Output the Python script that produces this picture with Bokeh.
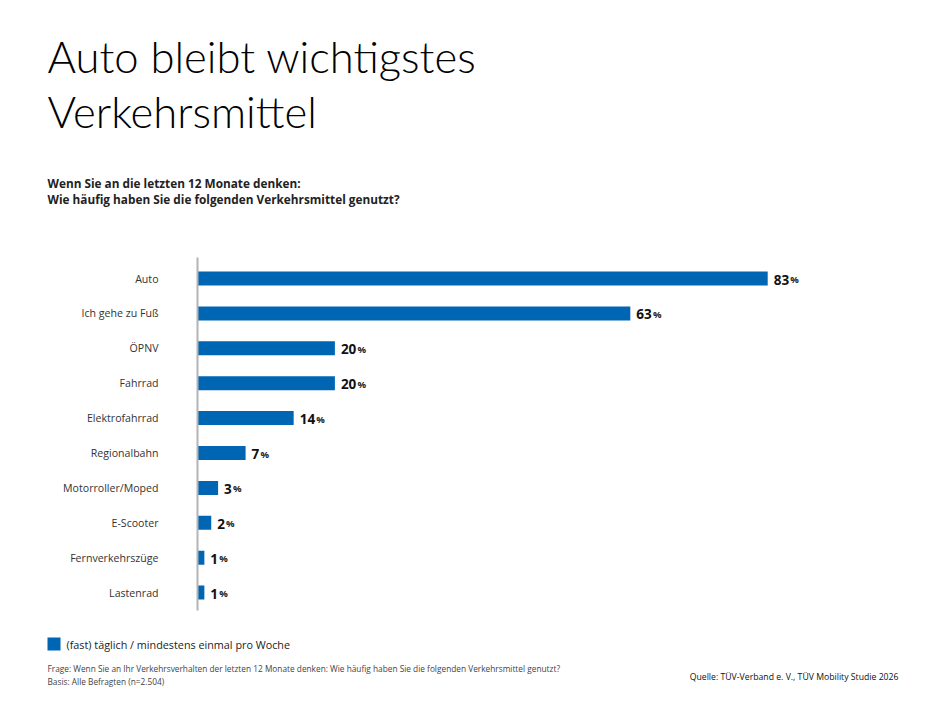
from bokeh.plotting import figure
from bokeh.models import Range1d, ColumnDataSource
from bokeh.core.properties import value
from bokeh.embed import file_html
from bokeh.resources import INLINE

# ---- data ----
categories = ["Auto", "Ich gehe zu Fuß", "ÖPNV", "Fahrrad", "Elektrofahrrad",
              "Regionalbahn", "Motorroller/Moped", "E-Scooter", "Fernverkehrszüge", "Lastenrad"]
values = [83, 63, 20, 20, 14, 7, 3, 2, 1, 1]
title_lines = ["Auto bleibt wichtigstes", "Verkehrsmittel"]
subtitle_lines = ["Wenn Sie an die letzten 12 Monate denken:",
                  "Wie häufig haben Sie die folgenden Verkehrsmittel genutzt?"]
legend_label = "(fast) täglich / mindestens einmal pro Woche"
note_lines = ["Frage: Wenn Sie an Ihr Verkehrsverhalten der letzten 12 Monate denken: Wie häufig haben Sie die folgenden Verkehrsmittel genutzt?",
              "Basis: Alle Befragten (n=2.504)"]
source_text = "Quelle: TÜV-Verband e. V., TÜV Mobility Studie 2026"

BLUE = "#0066B3"
W, H = 910, 687
AX = 197          # x of the value axis
PXPCT = 6.87      # pixels per percent
ROW0 = 278        # y of first row
ROWH = 34.9       # row spacing
FONT = "Open Sans"

rows = list(range(len(categories)))
src = ColumnDataSource(dict(
    cat=categories, val=values, row=rows,
    num=[str(v) for v in values],
    pct=["%"] * len(values),
    pct_off=[6 + 7.8 * len(str(v)) + 1 for v in values],
))

p = figure(width=W, height=H,
           x_range=Range1d(-AX / PXPCT, (W - AX) / PXPCT),
           y_range=Range1d((H - ROW0) / ROWH, -ROW0 / ROWH),
           x_axis_type=None, y_axis_type=None, min_border=0,
           toolbar_location=None, output_backend="svg",
           outline_line_color=None)
p.extra_x_ranges["px"] = Range1d(0, W)
p.extra_y_ranges["px"] = Range1d(H, 0)

# bars
p.hbar(y="row", right="val", left=0, height=14 / ROWH, source=src,
       fill_color=BLUE, line_color=None)

# axis line
p.segment(x0=[0], x1=[0], y0=[(257 - ROW0) / ROWH], y1=[(610 - ROW0) / ROWH],
          line_color="#b4b4b4", line_width=2)

# category labels
p.text(x=0, y="row", text="cat", source=src, x_offset=-39,
       text_align="right", text_baseline="middle", text_font=value(FONT),
       text_font_size="10.6px", text_color="#333333")

# value labels
p.text(x="val", y="row", text="num", source=src, x_offset=6, y_offset=1,
       text_align="left", text_baseline="alphabetic", text_font=value(FONT),
       text_font_style="bold", text_font_size="13.5px", text_color="#111111")
p.text(x="val", y="row", text="pct", source=src, x_offset="pct_off", y_offset=1,
       text_align="left", text_baseline="alphabetic", text_font=value(FONT),
       text_font_style="bold", text_font_size="9.5px", text_color="#222222")

# title
p.text(x=[47, 47], y=[55, 110], text=title_lines, x_range_name="px", y_range_name="px",
       text_align="left", text_baseline="alphabetic", text_font=value("Lato Light"),
       text_font_size="43.6px", text_color="#000000")

# subtitle
p.text(x=[47, 47], y=[182, 198], text=subtitle_lines, x_range_name="px", y_range_name="px",
       text_align="left", text_baseline="alphabetic", text_font=value(FONT),
       text_font_style="bold", text_font_size="11.8px", text_color="#222222")

# legend
p.rect(x=[53.5], y=[643.5], width=[13], height=[13], x_range_name="px", y_range_name="px",
       fill_color=BLUE, line_color=None)
p.text(x=[66], y=[644], text=[legend_label], x_range_name="px", y_range_name="px",
       text_align="left", text_baseline="middle", text_font=value(FONT),
       text_font_size="10.8px", text_color="#222222")

# notes
p.text(x=[47, 47], y=[668, 681], text=note_lines, x_range_name="px", y_range_name="px",
       text_align="left", text_baseline="middle", text_font=value(FONT),
       text_font_size="8.3px", text_color="#444444")

# source
p.text(x=[898], y=[676], text=[source_text], x_range_name="px", y_range_name="px",
       text_align="right", text_baseline="middle", text_font=value(FONT),
       text_font_size="8.7px", text_color="#111111")

open("out.html", "w").write(file_html(p, INLINE))
